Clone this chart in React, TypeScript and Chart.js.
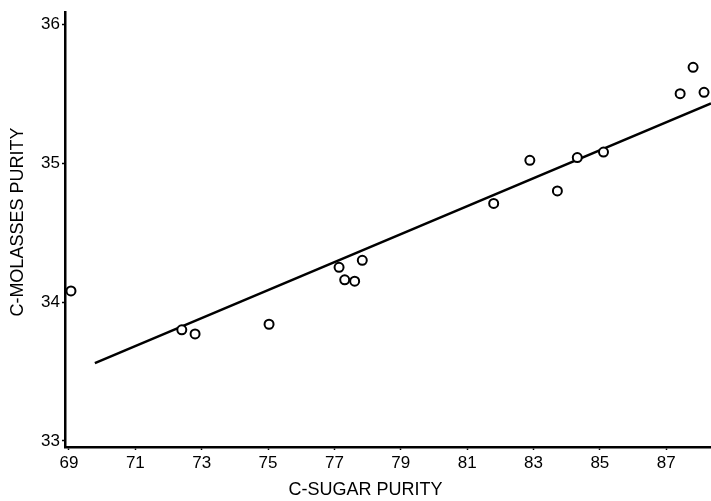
import React, { useEffect, useRef } from "react";
import { Chart, registerables } from "chart.js";

Chart.register(...registerables);

const sugarPurity = [69.06, 72.4, 72.8, 75.03, 77.14, 77.31, 77.61, 77.84, 81.8, 82.89, 83.72, 84.32, 85.11, 87.42, 87.81, 88.14];
const molassesPurity = [34.08, 33.8, 33.77, 33.84, 34.25, 34.16, 34.15, 34.3, 34.71, 35.02, 34.8, 35.04, 35.08, 35.5, 35.69, 35.51];
const fitX = [69.78, 88.35];
const fitY = [33.56, 35.43];
const xTicks = [69, 71, 73, 75, 77, 79, 81, 83, 85, 87];
const yTicks = [33, 34, 35, 36];

const FONT = "'Liberation Sans', Arial, Helvetica, sans-serif";

export default function App() {
  const ref = useRef<HTMLCanvasElement>(null);
  useEffect(() => {
    if (!ref.current) return;
    const chart = new Chart(ref.current, {
      type: "scatter",
      data: {
        datasets: [
          {
            type: "scatter",
            data: sugarPurity.map((x, i) => ({ x, y: molassesPurity[i] })),
            pointStyle: "circle",
            pointRadius: 4.5,
            pointBorderWidth: 2,
            pointBorderColor: "#000",
            pointBackgroundColor: "#fff",
            order: 0,
          },
          {
            type: "line",
            data: fitX.map((x, i) => ({ x, y: fitY[i] })),
            borderColor: "#000",
            borderWidth: 2.5,
            pointRadius: 0,
            fill: false,
            order: 1,
          } as any,
        ],
      },
      options: {
        animation: false,
        responsive: false,
        maintainAspectRatio: false,
        layout: { autoPadding: false, padding: { top: 10, right: 0, left: 0, bottom: 0 } },
        plugins: { legend: { display: false }, tooltip: { enabled: false } },
        scales: {
          x: {
            type: "linear",
            min: 68.88,
            max: 88.35,
            afterBuildTicks: (s: any) => {
              s.ticks = xTicks.map((v) => ({ value: v }));
            },
            afterFit: (s: any) => {
              s.height = 54;
            },
            grid: { display: true, drawOnChartArea: false, tickLength: 3, tickColor: "#000", tickWidth: 1.5 },
            border: { display: true, color: "#000", width: 2.5 },
            ticks: { color: "#000", font: { family: FONT, size: 17 }, padding: 3, maxRotation: 0, autoSkip: false },
            title: {
              display: true,
              text: "C-SUGAR PURITY         ",
              color: "#000",
              font: { family: FONT, size: 18 },
              padding: { top: -3, bottom: 0 },
            },
          },
          y: {
            type: "linear",
            min: 32.956,
            max: 36.087,
            afterBuildTicks: (s: any) => {
              s.ticks = yTicks.map((v) => ({ value: v }));
            },
            afterFit: (s: any) => {
              s.width = 65;
            },
            grid: { display: true, drawOnChartArea: false, tickLength: 3, tickColor: "#000", tickWidth: 1.5 },
            border: { display: true, color: "#000", width: 2.5 },
            ticks: { color: "#000", font: { family: FONT, size: 17 }, padding: 2, autoSkip: false },
            title: {
              display: true,
              text: "   C-MOLASSES PURITY",
              color: "#000",
              font: { family: FONT, size: 18 },
              padding: { top: 7, bottom: 0 },
            },
          },
        },
      },
    });
    return () => chart.destroy();
  }, []);
  return (
    <div style={{ position: "fixed", left: 0, top: 0, width: 711, height: 501, background: "#fff" }}>
      <canvas ref={ref} width={711} height={501} style={{ display: "block", width: 711, height: 501 }} />
    </div>
  );
}
